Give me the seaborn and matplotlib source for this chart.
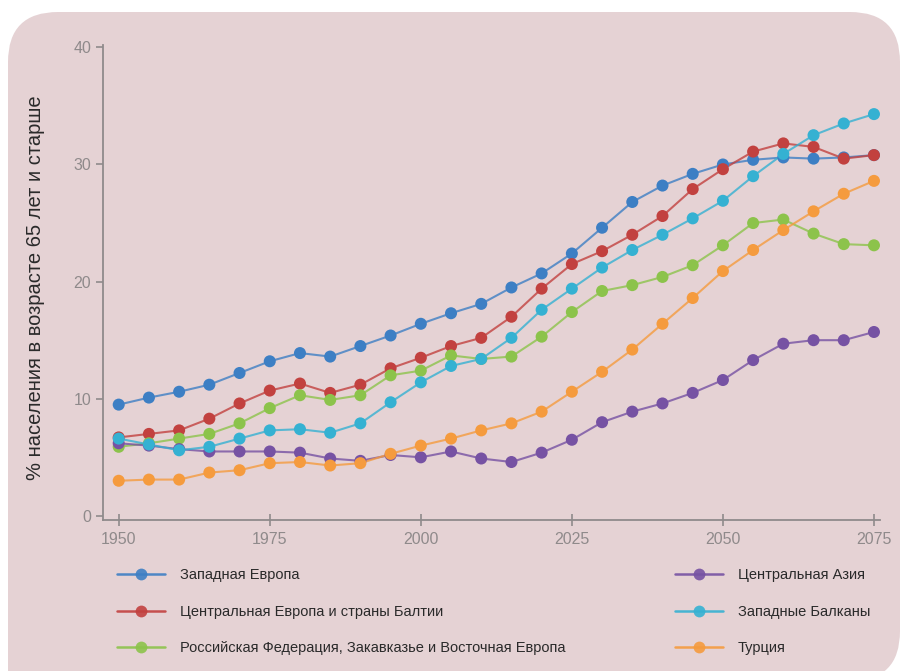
import numpy as np
import pandas as pd
import seaborn as sns
import matplotlib
matplotlib.use("Agg")
import matplotlib.pyplot as plt
from matplotlib.patches import FancyBboxPatch, Rectangle
from matplotlib.lines import Line2D
from matplotlib.transforms import IdentityTransform

years = list(range(1950, 2080, 5))

western_europe = [9.5, 10.1, 10.6, 11.2, 12.2, 13.2, 13.9, 13.6, 14.5, 15.4, 16.4, 17.3, 18.1,
                  19.5, 20.7, 22.4, 24.6, 26.8, 28.2, 29.2, 30.0, 30.4, 30.6, 30.5, 30.6, 30.8]
central_europe = [6.7, 7.0, 7.3, 8.3, 9.6, 10.7, 11.3, 10.5, 11.2, 12.6, 13.5, 14.5, 15.2,
                  17.0, 19.4, 21.5, 22.6, 24.0, 25.6, 27.9, 29.6, 31.1, 31.8, 31.5, 30.5, 30.8]
russia = [5.9, 6.2, 6.6, 7.0, 7.9, 9.2, 10.3, 9.9, 10.3, 12.0, 12.4, 13.7, 13.4,
          13.6, 15.3, 17.4, 19.2, 19.7, 20.4, 21.4, 23.1, 25.0, 25.3, 24.1, 23.2, 23.1]
central_asia = [6.2, 6.0, 5.7, 5.5, 5.5, 5.5, 5.4, 4.9, 4.7, 5.2, 5.0, 5.5, 4.9,
                4.6, 5.4, 6.5, 8.0, 8.9, 9.6, 10.5, 11.6, 13.3, 14.7, 15.0, 15.0, 15.7]
western_balkans = [6.6, 6.1, 5.6, 5.9, 6.6, 7.3, 7.4, 7.1, 7.9, 9.7, 11.4, 12.8, 13.4,
                   15.2, 17.6, 19.4, 21.2, 22.7, 24.0, 25.4, 26.9, 29.0, 30.9, 32.5, 33.5, 34.3]
turkey = [3.0, 3.1, 3.1, 3.7, 3.9, 4.5, 4.6, 4.3, 4.5, 5.3, 6.0, 6.6, 7.3,
          7.9, 8.9, 10.6, 12.3, 14.2, 16.4, 18.6, 20.9, 22.7, 24.4, 26.0, 27.5, 28.6]

names = ["Западная Европа",
         "Центральная Европа и страны Балтии",
         "Российская Федерация, Закавказье и Восточная Европа",
         "Центральная Азия",
         "Западные Балканы",
         "Турция"]
series = [western_europe, central_europe, russia, central_asia, western_balkans, turkey]
colors = ["#3d7fc4", "#c2413f", "#8cc34b", "#7652a3", "#35b1d2", "#f59b3e"]

x_ticks = [1950, 1975, 2000, 2025, 2050, 2075]
y_ticks = [0, 10, 20, 30, 40]
y_label = "% населения в возрасте 65 лет и старше"

rows = []
for n, s in zip(names, series):
    for y, v in zip(years, s):
        rows.append({"year": y, "value": v, "region": n})
df = pd.DataFrame(rows)

sns.set_theme(style="white")
plt.rcParams["font.family"] = ["Liberation Sans", "DejaVu Sans"]

W, H = 904, 671
fig = plt.figure(figsize=(W / 100, H / 100), dpi=100)
fig.patch.set_facecolor("white")

bg = "#e5d2d4"
box = FancyBboxPatch((8, -10), 892, 669, boxstyle="round,pad=0,rounding_size=50",
                     transform=IdentityTransform(), facecolor=bg, edgecolor="none", zorder=-10)
fig.patches.append(box)
sq = Rectangle((8, -10), 80, 90, transform=IdentityTransform(), facecolor=bg,
               edgecolor="none", zorder=-10)
fig.patches.append(sq)

ax = fig.add_axes([103 / W, 151 / H, 777 / W, 475 / H])
ax.set_facecolor("none")

palette = dict(zip(names, colors))
draw_order = [names[0], names[1], names[2], names[3], names[5], names[4]]
for n in draw_order:
    sub = df[df["region"] == n]
    sns.lineplot(data=sub, x="year", y="value", color=palette[n], linewidth=1.5,
                 alpha=0.8, ax=ax, legend=False)
    sns.scatterplot(data=sub, x="year", y="value", color=palette[n], s=75,
                    edgecolor="none", linewidth=0, ax=ax, legend=False, zorder=3)

ax.set_xlim(1947.4, 2076.0)
ax.set_ylim(-0.35, 40.2)
ax.set_xticks(x_ticks)
ax.set_yticks(y_ticks)
ax.set_xlabel("")
ax.set_ylabel("")

for side in ["top", "right"]:
    ax.spines[side].set_visible(False)
for side in ["left", "bottom"]:
    ax.spines[side].set_color("#8f8a8b")
    ax.spines[side].set_linewidth(1.3)
ax.tick_params(axis="both", colors="#8f8a8b", labelcolor="#8f8a8b", labelsize=11.5,
               length=5, width=1.2, direction="out", left=True, bottom=True)
ax.tick_params(axis="x", direction="inout", length=8, pad=5)

fig.text(36 / W, 1 - 288 / H, y_label, rotation=90, ha="center", va="center",
         fontsize=14.5, color="#2a2a2a")

def handle(c):
    return Line2D([0], [0], color=c, lw=1.8, marker="o", markersize=8.5,
                  markeredgewidth=0, alpha=0.9)

h_left = [handle(colors[i]) for i in range(3)]
h_right = [handle(colors[i]) for i in range(3, 6)]
leg_kw = dict(frameon=False, fontsize=10.5, handlelength=3.3, handletextpad=1.0,
              labelspacing=1.55, borderaxespad=0, borderpad=0)
leg1 = fig.legend(h_left, names[:3], loc="upper left",
                  bbox_to_anchor=(117 / W, 1 - 568 / H), **leg_kw)
leg2 = fig.legend(h_right, names[3:], loc="upper left",
                  bbox_to_anchor=(675 / W, 1 - 568 / H), **leg_kw)
for leg in (leg1, leg2):
    for t in leg.get_texts():
        t.set_color("#2a2a2a")

fig.savefig("out.png", dpi=100, facecolor="white")
